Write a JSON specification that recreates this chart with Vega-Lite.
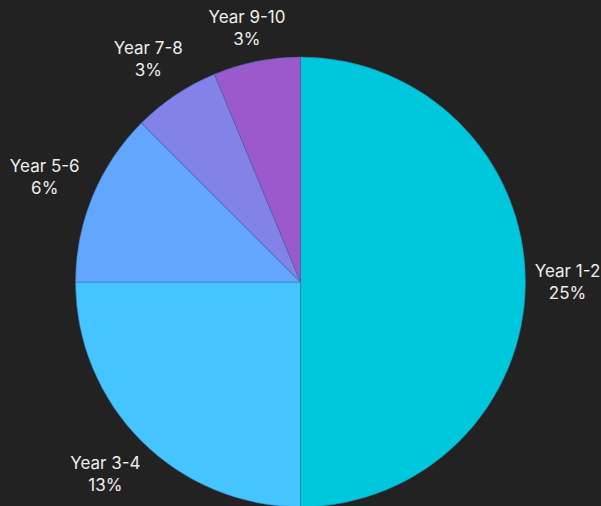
{
  "$schema": "https://vega.github.io/schema/vega-lite/v6.json",
  "width": 601,
  "height": 448,
  "autosize": {"type": "none"},
  "padding": {"left": 0, "top": 58, "right": 0, "bottom": 0},
  "background": "#222222",
  "config": {"view": {"stroke": null}},
  "data": {
    "values": [
      {"year": "Year 1-2", "value": 25, "pct": "25%", "order": 1},
      {"year": "Year 3-4", "value": 12.5, "pct": "13%", "order": 2},
      {"year": "Year 5-6", "value": 6.25, "pct": "6%", "order": 3},
      {"year": "Year 7-8", "value": 3.125, "pct": "3%", "order": 4},
      {"year": "Year 9-10", "value": 3.125, "pct": "3%", "order": 5}
    ]
  },
  "transform": [
    {"calculate": "datum.year + '\\n' + datum.pct", "as": "label"},
    {"joinaggregate": [{"op": "sum", "field": "value", "as": "total"}]}
  ],
  "encoding": {
    "theta": {"field": "value", "type": "quantitative", "stack": true},
    "order": {"field": "order", "type": "quantitative"},
    "color": {
      "field": "year",
      "type": "nominal",
      "scale": {
        "domain": ["Year 1-2", "Year 3-4", "Year 5-6", "Year 7-8", "Year 9-10"],
        "range": ["#00C8DC", "#45C4FF", "#63A6FF", "#8282E8", "#9B59CC"]
      },
      "legend": null
    }
  },
  "layer": [
    {
      "mark": {"type": "arc", "outerRadius": 225, "stroke": "#3a6a9a", "strokeWidth": 0.5}
    },
    {
      "mark": {
        "type": "text",
        "radius": {"expr": "237 + 33*abs(sin(PI*(datum.value_start+datum.value_end)/datum.total)) + 16*abs(cos(PI*(datum.value_start+datum.value_end)/datum.total))"},
        "dx": -3,
        "dy": -10,
        "fontSize": 17,
        "font": "Inter",
        "fill": "#eeeeee",
        "lineBreak": "\n",
        "lineHeight": 22,
        "align": "center",
        "baseline": "middle"
      },
      "encoding": {
        "text": {"field": "label"},
        "color": {"value": "#eeeeee"}
      }
    }
  ]
}
